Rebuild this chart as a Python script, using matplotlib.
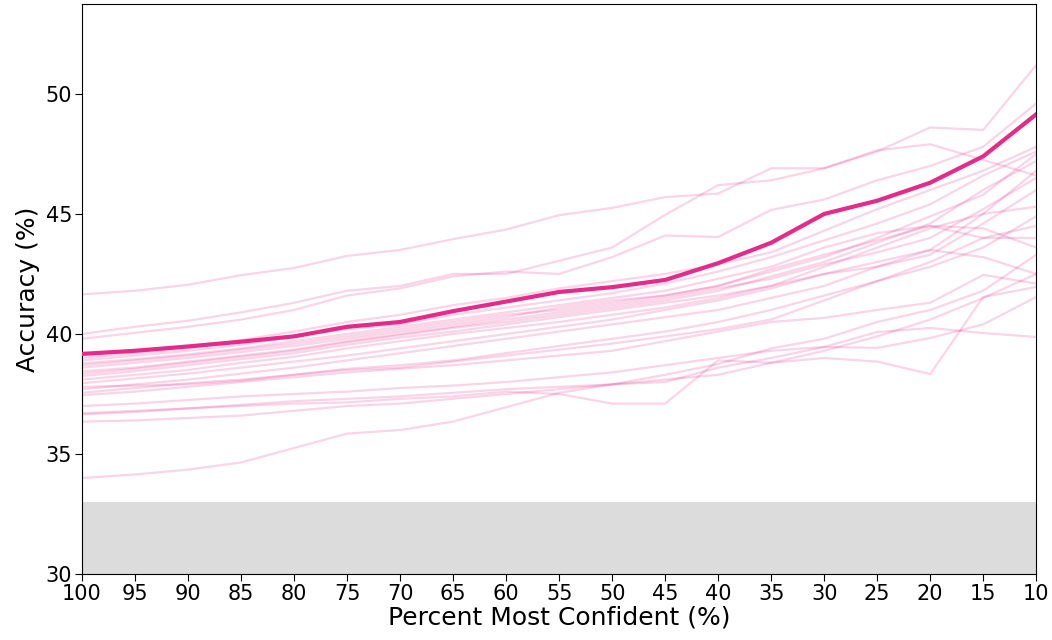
import matplotlib
matplotlib.use('Agg')
import matplotlib.pyplot as plt

# percent of most confident predictions kept
percent = [100, 95, 90, 85, 80, 75, 70, 65, 60, 55, 50, 45, 40, 35, 30, 25, 20, 15, 10]

# highlighted model
main_acc = [39.17, 39.3, 39.48, 39.68, 39.9, 40.3, 40.5, 40.95, 41.35, 41.75,
            41.95, 42.25, 42.95, 43.8, 45.0, 45.55, 46.3, 47.4, 49.15]

# other runs (faint)
other_acc = [
    [41.65, 41.8, 42.05, 42.45, 42.75, 43.25, 43.5, 43.95, 44.35, 44.95, 45.25, 45.7, 45.85, 46.9, 46.9, 47.6, 48.6, 48.5, 51.2],
    [40.0, 40.3, 40.55, 40.9, 41.3, 41.8, 42.0, 42.5, 42.5, 43.05, 43.6, 44.96, 46.2, 46.4, 46.9, 47.65, 47.9, 47.25, 46.6],
    [39.8, 40.05, 40.3, 40.6, 41.0, 41.6, 41.9, 42.4, 42.6, 42.5, 43.2, 44.1, 44.04, 45.17, 45.6, 46.4, 47.0, 47.8, 49.6],
    [39.0, 39.2, 39.4, 39.75, 40.1, 40.5, 40.8, 41.2, 41.5, 41.9, 42.2, 42.5, 42.9, 43.4, 44.3, 45.2, 46.0, 46.8, 47.8],
    [38.9, 39.1, 39.3, 39.55, 39.9, 40.2, 40.4, 40.8, 41.1, 41.4, 41.7, 42.1, 42.6, 43.2, 43.9, 44.6, 45.4, 46.6, 47.6],
    [38.78, 38.95, 39.15, 39.4, 39.7, 40.0, 40.3, 40.6, 40.9, 41.2, 41.5, 41.8, 42.3, 42.8, 43.6, 44.2, 44.5, 44.4, 43.6],
    [38.6, 38.8, 39.0, 39.25, 39.5, 39.8, 40.1, 40.4, 40.7, 41.1, 41.4, 41.6, 42.0, 42.6, 43.2, 44.0, 44.9, 45.8, 47.5],
    [38.45, 38.6, 38.85, 39.1, 39.35, 39.7, 40.0, 40.3, 40.6, 40.9, 41.2, 41.5, 41.9, 42.3, 42.9, 43.4, 44.0, 45.2, 46.5],
    [38.25, 38.45, 38.7, 38.95, 39.2, 39.55, 39.85, 40.1, 40.4, 40.7, 41.0, 41.3, 41.6, 42.0, 42.5, 43.0, 43.5, 43.2, 42.5],
    [38.1, 38.3, 38.5, 38.8, 39.05, 39.4, 39.7, 40.0, 40.25, 40.5, 40.8, 41.1, 41.5, 42.0, 42.8, 43.6, 44.4, 45.0, 45.3],
    [37.95, 38.15, 38.35, 38.6, 38.85, 39.1, 39.4, 39.7, 40.0, 40.3, 40.6, 41.0, 41.4, 41.9, 42.5, 42.8, 43.3, 44.6, 46.0],
    [37.8, 37.85, 37.9, 38.05, 38.3, 38.55, 38.7, 38.9, 39.2, 39.5, 39.8, 40.1, 40.5, 41.0, 41.6, 42.2, 42.8, 43.6, 44.9],
    [37.55, 37.75, 37.95, 38.1, 38.3, 38.5, 38.6, 38.85, 39.1, 39.35, 39.6, 39.9, 40.2, 40.6, 41.4, 42.2, 43.0, 44.0, 44.5],
    [37.45, 37.6, 37.8, 38.0, 38.2, 38.4, 38.55, 38.7, 38.9, 39.1, 39.3, 39.7, 40.1, 40.5, 40.67, 41.0, 41.3, 42.46, 42.1],
    [37.0, 37.1, 37.25, 37.4, 37.5, 37.6, 37.75, 37.85, 38.0, 38.2, 38.4, 38.7, 39.0, 39.3, 39.46, 40.08, 40.25, 40.04, 39.875],
    [36.7, 36.8, 36.9, 37.05, 37.2, 37.3, 37.4, 37.55, 37.7, 37.8, 37.9, 38.0, 38.6, 39.0, 39.46, 39.42, 39.83, 40.4, 41.54],
    [36.65, 36.75, 36.9, 37.0, 37.1, 37.15, 37.3, 37.4, 37.6, 37.5, 37.1, 37.1, 38.9, 38.8, 39.0, 38.85, 38.33, 41.54, 41.96],
    [36.35, 36.4, 36.5, 36.6, 36.8, 37.0, 37.1, 37.3, 37.5, 37.7, 37.9, 38.1, 38.3, 38.8, 39.3, 39.9, 40.6, 41.5, 42.5],
    [34.0, 34.15, 34.35, 34.65, 35.25, 35.85, 36.0, 36.35, 36.95, 37.55, 37.9, 38.3, 38.75, 39.4, 39.8, 40.5, 41.0, 41.8, 43.3],
    [38.35, 38.55, 38.8, 39.05, 39.3, 39.65, 39.95, 40.25, 40.5, 40.8, 41.1, 41.4, 41.8, 42.4, 43.0, 43.8, 44.6, 46.0, 47.2],
    [38.7, 38.9, 39.1, 39.35, 39.6, 39.9, 40.2, 40.5, 40.8, 41.0, 41.3, 41.6, 42.0, 42.7, 43.3, 43.9, 44.5, 44.0, 44.0],
    [37.7, 37.9, 38.1, 38.35, 38.6, 38.9, 39.2, 39.5, 39.8, 40.1, 40.4, 40.7, 41.0, 41.5, 42.0, 42.8, 43.5, 45.0, 46.8],
]

chance_level = 33.0
color = '#e7298a'

fig, ax = plt.subplots(figsize=(10.52, 6.4), dpi=100)
fig.subplots_adjust(left=0.078, right=0.985, top=0.994, bottom=0.103)

# shaded region below chance
ax.axhspan(30, chance_level, color='#dcdcdc', lw=0, zorder=0)

for acc in other_acc:
    ax.plot(percent, acc, color=color, alpha=0.2, lw=1.6, zorder=2)
ax.plot(percent, main_acc, color=color, lw=3, zorder=3)

ax.set_xlim(100, 10)
ax.set_ylim(30, 53.75)
ax.set_xticks(percent)
ax.set_yticks([30, 35, 40, 45, 50])
ax.tick_params(labelsize=15, length=5, pad=2)
ax.set_xlabel('Percent Most Confident (%)', fontsize=18, labelpad=1)
ax.set_ylabel('Accuracy (%)', fontsize=18, labelpad=4)

plt.savefig('out.png', dpi=100)
